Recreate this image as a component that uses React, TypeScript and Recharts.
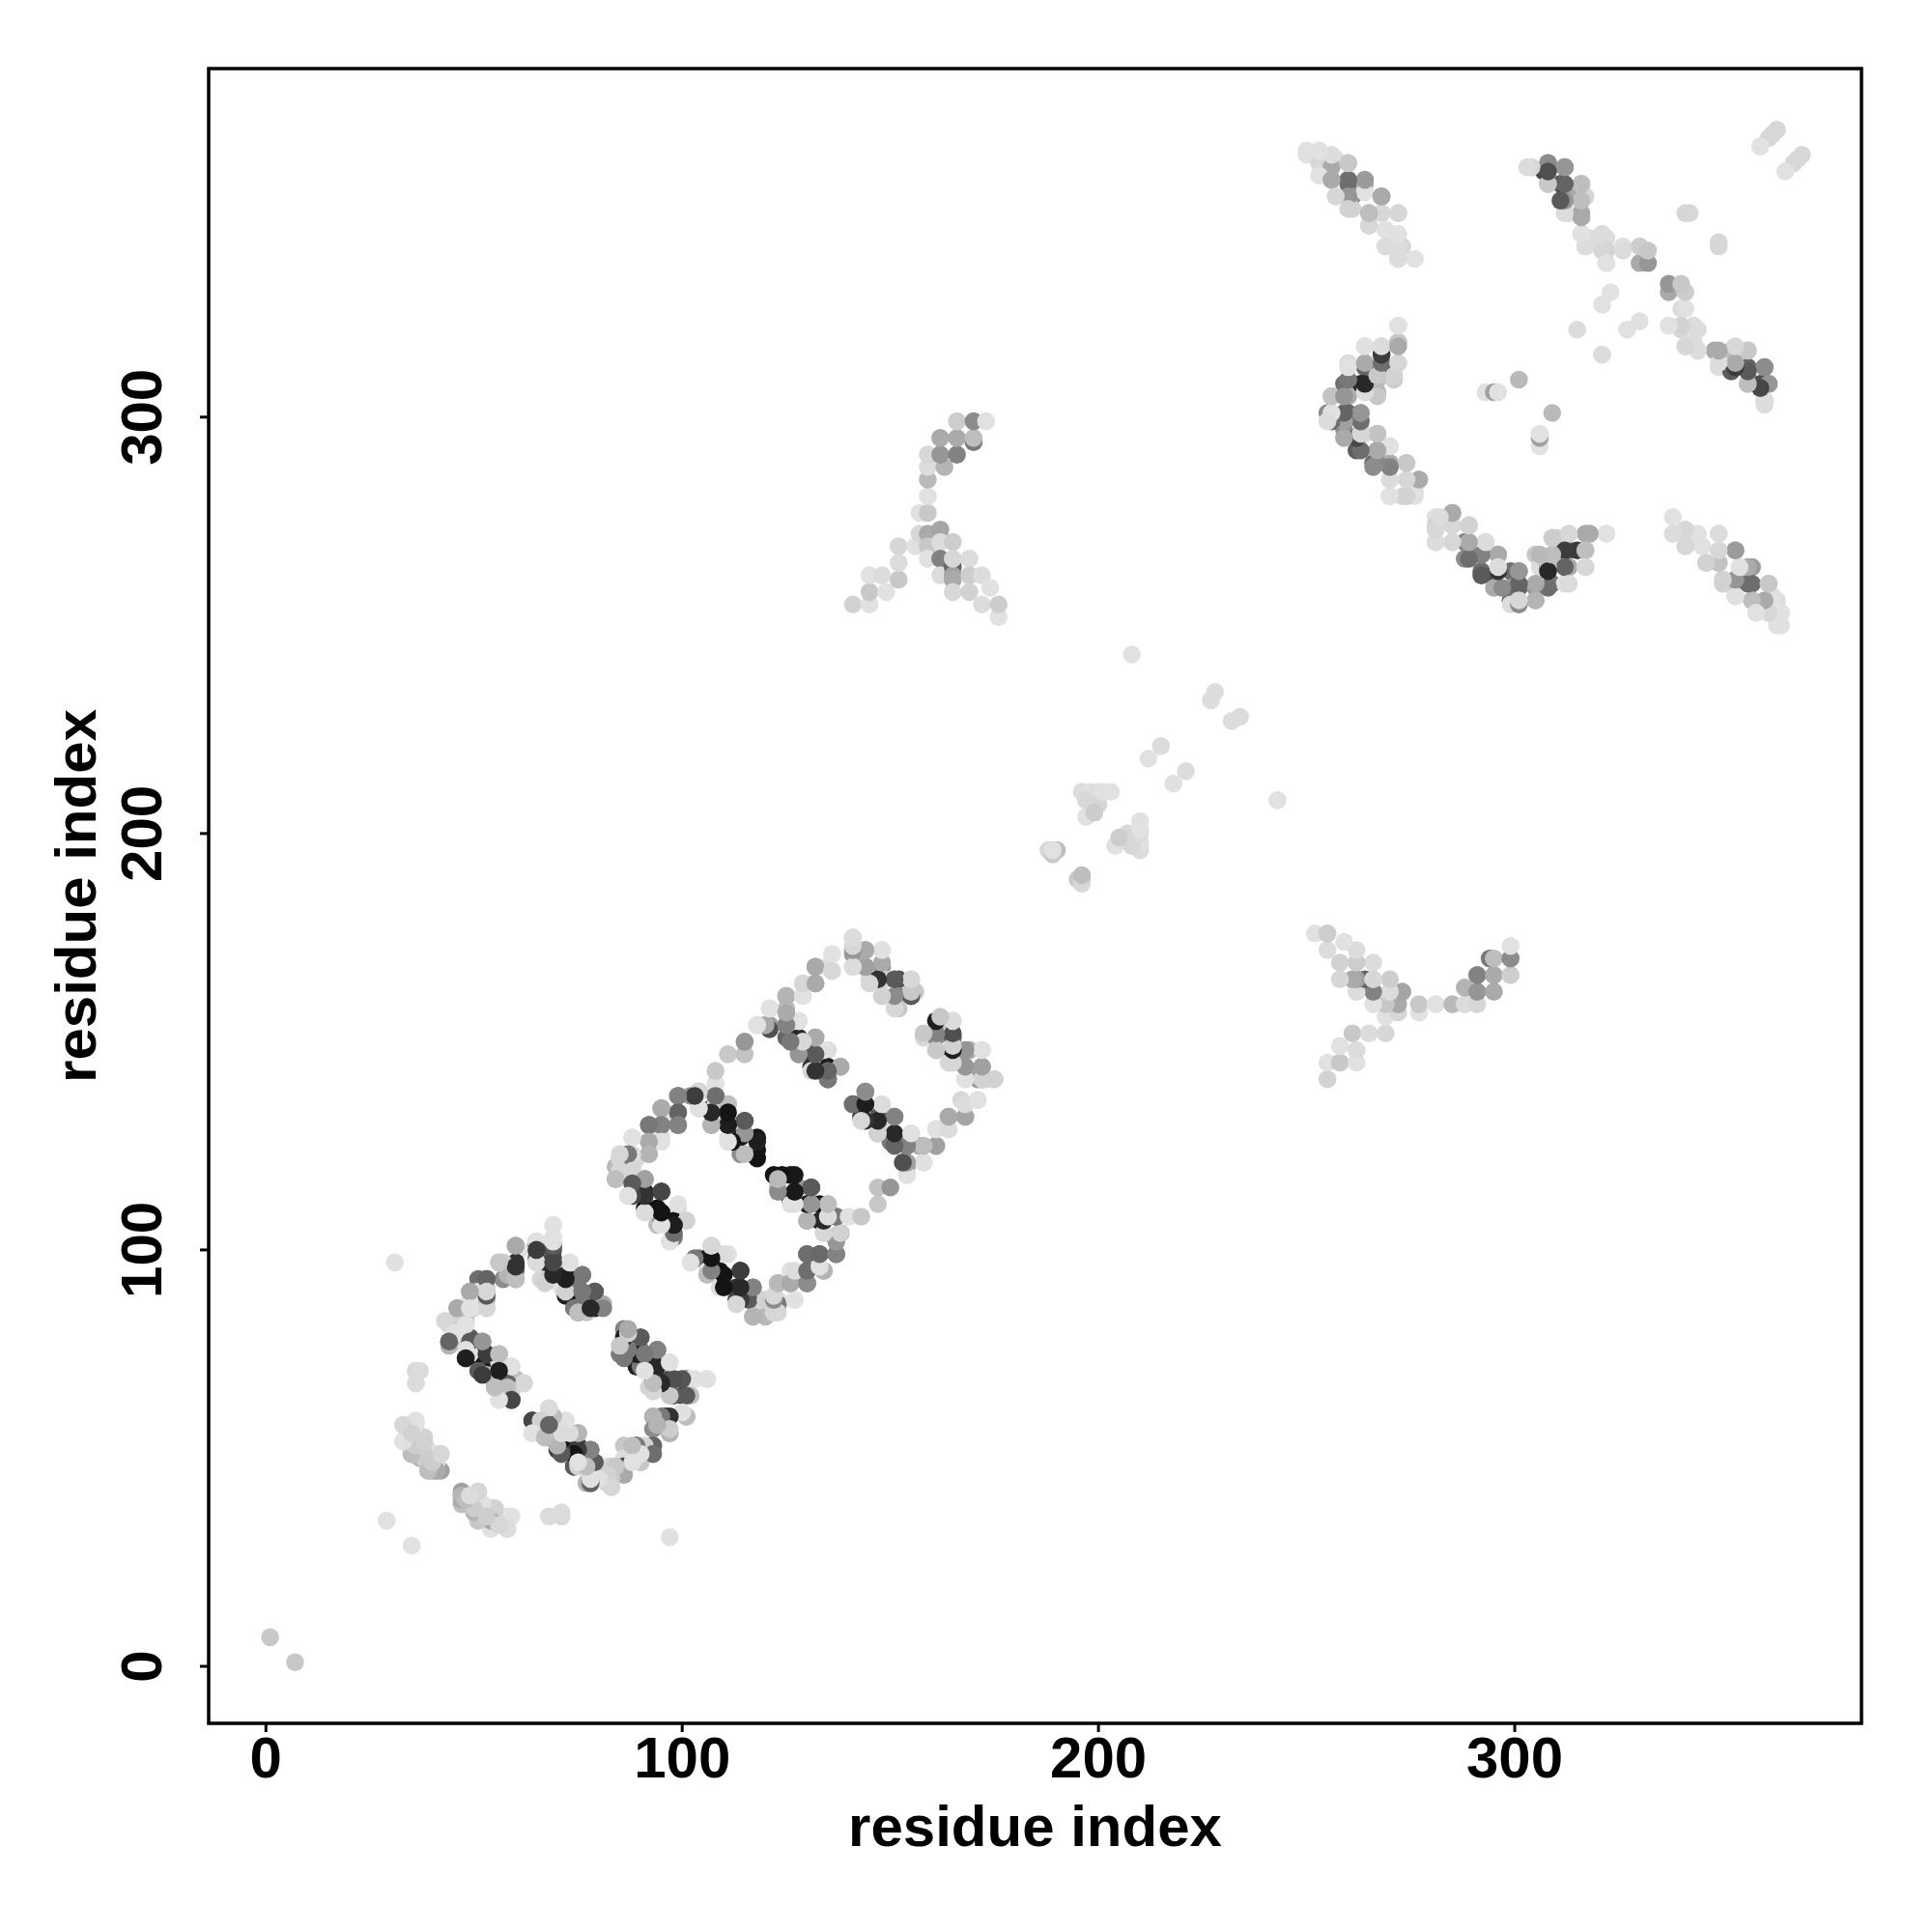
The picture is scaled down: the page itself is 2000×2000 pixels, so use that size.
import React from 'react';
import { ScatterChart, Scatter, XAxis, YAxis, ReferenceArea } from 'recharts';

// contact map: each row is [residue i, residue j, contact strength]
// the map is symmetric, so every contact is drawn at (i, j) and at (j, i)
const ringOneOuter = [
  [69,106,3],[69,103,3],[65,102,38],[65,101,138],[60,101,38],[61,100,3],[69,100,143],[60,97,178],[60,95,108],[60,93,48],
  [56,97,48],[57,97,23],[57,93,88],[53,93,128],[53,91,18],[53,89,108],[53,86,28],[49,90,28],[50,88,8],[50,86,8],
  [48,86,168],[46,86,58],[45,83,28],[48,83,18],[58,94,48],[51,93,118],[51,90,3],[53,88,38],[49,88,3],[47,83,18],
  [48,84,28],[44,82,18],[46,82,18],[43,83,13],
];
const ringOneTop = [
  [65,98,138],[65,97,28],[69,98,148],[68,95,188],[69,93,168],[72,94,188],[73,97,3],[76,94,98],[72,89,198],[72,90,108],
  [75,89,198],[75,91,108],[79,90,138],[76,86,158],[76,87,108],[79,86,198],[80,87,18],[81,87,58],[66,93,13],[68,93,38],
  [75,85,108],[74,86,108],[77,85,28],[71,91,3],
];
const ringOneInner = [
  [45,80,3],[44,78,128],[49,79,138],[52,78,98],[48,74,138],[48,75,18],[52,75,168],[51,74,208],[52,71,158],[56,75,48],
  [54,71,198],[55,71,208],[56,73,8],[59,72,3],[55,68,128],[60,69,38],[59,67,208],[62,68,8],[59,64,158],[59,66,18],[56,64,3],
  [45,78,3],[48,77,38],[49,75,3],[51,71,138],[53,70,48],[56,71,8],[55,67,38],[58,68,128],
];
const ringOneLower = [
  [85,75,38],[90,72,18],[92,67,18],[97,65,8],[102,65,3],[101,60,58],[93,60,38],[96,60,178],[93,53,128],[97,56,28],
  [86,53,13],[89,53,138],[90,53,13],[90,49,58],[86,46,58],[86,49,3],[80,46,3],[82,48,3],[78,49,138],[76,48,3],
  [75,53,168],[78,52,78],[75,56,38],[72,59,3],[71,56,198],[67,58,38],[68,62,13],[64,59,158],[64,56,3],[67,55,38],
  [70,52,168],[74,48,198],[77,44,48],[78,44,128],[86,81,98],[90,79,138],[86,78,188],[90,76,108],[94,76,108],[93,72,198],
  [97,73,3],[94,69,188],[97,69,158],[101,69,138],[102,69,3],[106,69,3],[100,65,168],
];
const outerCluster = [
  [36,71,13],[36,68,3],[37,71,8],[36,68,8],[36,59,3],[33,58,8],[33,54,3],[38,55,18],[35,54,58],[35,51,28],
  [39,52,3],[37,50,48],[42,51,13],[42,47,68],[39,47,38],[40,47,58],[41,47,48],[31,97,3],[29,35,3],[34,56,13],
  [36,53,23],[38,50,23],[40,48,38],[41,49,8],[47,41,58],[47,39,38],[49,40,23],[51,42,13],[51,38,23],[51,35,38],
  [53,36,23],[54,38,18],[54,33,3],[58,36,3],[58,33,13],[56,35,18],
];
const ringTwoOuter = [
  [84,120,43],[85,122,13],[88,120,18],[88,127,3],[88,122,88],[89,122,13],[92,123,43],[92,126,58],[92,130,88],[95,127,8],
  [95,130,118],[95,134,48],[96,133,3],[99,130,118],[99,133,123],[99,137,98],[102,137,78],[104,138,148],[104,138,18],[108,137,108],
  [108,140,3],[108,143,28],[111,147,28],[115,147,33],[115,150,78],[118,154,3],[121,158,3],[125,161,68],[129,161,3],[129,164,8],
  [132,164,58],[132,168,63],[135,168,8],[136,171,3],
];
const ringTwoInner = [
  [84,117,48],[88,114,168],[87,113,13],[91,117,98],[91,114,188],[95,114,168],[91,110,208],[94,110,208],[99,110,8],[94,106,38],
  [95,107,98],[98,107,208],[101,107,13],[98,103,108],[97,102,3],
];
const ringTwoUpper = [
  [104,134,13],[107,134,188],[108,135,8],[111,135,38],[107,130,48],[111,130,198],[111,131,78],[115,131,138],[111,127,3],[114,127,203],
  [118,127,203],[114,123,88],[118,124,208],[117,123,43],
];
const ringTwoLower = [
  [122,118,208],[126,118,198],[123,115,38],[128,115,78],[131,115,138],[126,112,208],[126,111,3],[130,111,198],[130,107,48],[135,111,38],
  [133,111,208],[133,107,188],[137,108,118],[134,104,3],[138,104,13],[137,103,168],[137,99,98],[133,99,128],[130,99,98],[134,95,58],
  [130,95,98],[130,92,108],[126,95,3],[126,92,58],[123,92,48],[127,88,3],[123,88,8],[123,87,108],[123,85,13],[119,85,13],
  [117,84,38],[119,88,13],[104,98,118],[107,101,18],[111,99,3],[106,98,198],[106,95,3],[109,95,208],[114,95,158],[109,91,8],
  [113,91,178],[117,91,68],[113,88,158],[116,88,138],[113,87,3],
];
const ringThreeInner = [
  [125,158,38],[121,154,68],[121,153,148],[125,154,98],[125,151,128],[128,151,188],[128,155,3],[128,147,18],[132,151,98],[131,147,188],
  [135,148,8],[131,144,178],[135,141,118],[135,144,198],[138,144,88],[131,143,13],
];
const ringThreeUpper = [
  [141,171,78],[141,175,18],[141,172,18],[141,168,3],[144,172,68],[148,172,3],[144,168,78],[148,168,78],[145,165,13],[148,165,198],
  [149,165,18],[152,165,148],[155,165,8],[148,161,28],[152,161,98],[155,161,198],[156,162,28],[152,158,28],
];
const ringThreeLower = [
  [141,135,108],[144,138,58],[143,135,128],[143,132,178],[148,134,3],[147,132,138],[151,132,58],[147,128,78],[150,129,13],[150,126,108],
  [155,128,3],[154,125,98],[154,120,58],[158,121,3],[154,118,3],[157,125,58],[161,125,48],[161,129,3],[164,129,13],[164,132,58],
  [168,132,58],[167,136,13],[171,136,3],[158,151,13],[161,155,138],[162,155,28],[165,155,13],[161,151,88],[165,151,138],[161,148,18],
  [165,147,178],[164,145,13],[169,148,58],[172,148,3],[168,144,68],[172,144,58],[168,141,8],[172,141,78],[173,141,13],[175,141,8],
];
const branchLeft = [
  [141,255,18],[145,255,3],[145,258,28],[145,262,3],[149,258,3],[148,262,8],[152,261,28],[152,265,8],[152,269,13],[156,269,3],
  [157,277,3],[157,272,13],[159,277,28],[159,281,3],[159,285,43],[159,288,8],[159,291,13],[159,272,58],[159,269,28],[159,266,3],
];
const branchRight = [
  [162,273,63],[162,270,8],[162,266,98],[162,262,8],[165,264,128],[165,262,68],[165,261,58],[165,258,13],[165,270,23],[165,266,13],
  [169,266,8],[169,262,23],[169,258,18],[172,262,8],[174,259,3],[172,255,8],[176,252,3],[176,255,23],[163,288,48],[162,291,78],
  [166,291,98],[162,295,58],[166,295,58],[170,294,108],[170,295,38],[166,299,23],[170,299,88],[173,299,3],
];
const diagonalScatter = [
  [208,243,3],[227,232,8],[228,234,8],[212,218,3],[215,221,8],[196,210,8],[198,210,3],[197,208,13],[200,210,8],[203,210,3],
  [197,204,3],[200,207,13],[201,210,3],[199,205,23],[189,196,23],[188,196,13],[190,196,38],[195,189,28],[196,189,3],
];
const farStreakOne = [
  [250,363,3],[253,363,3],[253,361,13],[257,362,3],[256,360,58],[260,361,28],[256,357,38],[253,358,3],[260,356,118],[264,356,58],
  [257,353,3],[261,353,78],[264,354,3],[268,353,73],[261,350,18],[265,349,33],[268,349,13],[272,349,8],[265,346,18],[269,345,3],
  [269,341,13],[273,341,13],[272,338,8],[276,338,3],[349,272,13],[353,268,58],[357,264,73],[357,260,118],[353,260,78],[350,260,18],
  [361,260,28],[363,256,8],[357,256,58],[353,257,13],[364,253,3],[364,250,3],[341,272,8],[344,272,3],[338,272,8],[341,269,8],
  [346,265,13],[349,265,38],[345,269,3],
];
const farStreakTwo = [
  [304,360,8],[308,361,78],[307,359,158],[312,360,88],[308,356,38],[311,356,138],[316,356,28],[312,353,168],[313,353,58],[317,353,13],
  [313,349,8],[316,349,58],[316,344,8],[318,343,8],[322,343,8],[317,341,13],[322,340,18],[326,341,3],[322,337,3],[330,337,58],
  [332,337,78],[330,341,23],[332,340,28],[340,326,8],[340,321,13],[337,322,3],[344,321,8],[341,317,8],[344,316,3],[348,316,58],
  [352,316,38],[356,316,38],[349,312,8],[352,312,78],[356,312,128],[360,312,78],[352,311,138],[356,308,28],[361,308,88],[359,308,148],
  [360,304,13],[360,303,8],
];
const isolatedContacts = [
  [342,349,13],[341,349,13],[362,368,13],[361,367,13],[363,369,13],[359,365,3],[323,330,3],[321,327,3],[315,321,8],[293,306,3],
  [295,306,68],[296,306,3],[301,309,43],
];
const chevron = [
  [272,322,3],[272,318,58],[268,317,38],[264,317,13],[272,313,13],[268,312,168],[264,312,128],[260,313,8],[259,308,118],[264,308,28],
  [263,308,188],[267,309,38],[271,309,23],[256,305,48],[267,306,43],[260,305,58],[260,301,128],[263,301,78],[255,301,88],[256,301,13],
  [259,297,88],[263,296,178],[267,296,58],[264,296,8],[262,292,138],[267,292,98],[270,293,8],[266,289,118],[270,289,58],[274,289,18],
  [270,285,13],[277,285,58],[270,281,8],[273,281,13],[276,282,8],
];
const valleyDown = [
  [281,276,3],[285,277,58],[281,274,18],[281,270,3],[285,274,13],[289,274,28],[285,270,8],[288,270,98],[289,267,93],[293,270,3],
  [288,266,88],[292,267,58],[292,263,118],[296,267,33],[295,262,158],[296,263,13],[295,259,58],[299,263,118],[301,263,78],[299,259,68],
  [301,259,128],[299,256,118],[301,256,3],[299,255,8],
];
const valleyUp = [
  [305,256,33],[305,259,78],[305,267,28],[306,264,8],[308,264,188],[309,260,108],[312,260,3],[310,271,18],[310,267,28],[313,264,58],
  [313,268,118],[313,272,13],[315,268,168],[317,268,8],[317,264,3],[318,272,28],[317,272,58],[322,272,3],
];
const endContacts = [[1,7,28]];

const tickValues = [0, 100, 200, 300];
const axisTitle = 'residue index';

const contactRows = [
  ...ringOneOuter, ...ringOneTop, ...ringOneInner, ...ringOneLower, ...outerCluster, ...ringTwoOuter, ...ringTwoInner, ...ringTwoUpper,
  ...ringTwoLower, ...ringThreeInner, ...ringThreeUpper, ...ringThreeLower, ...branchLeft, ...branchRight, ...diagonalScatter,
  ...farStreakOne, ...farStreakTwo, ...isolatedContacts, ...chevron, ...valleyDown, ...valleyUp, ...endContacts,
];

const points = [
  ...contactRows.map(([i, j, s]) => ({ x: i, y: j, s })),
  ...contactRows.map(([i, j, s]) => ({ x: j, y: i, s })),
];

const font = '"Liberation Sans", Arial, sans-serif';

const ContactDot = (props: any) => {
  const g = 228 - props.payload.s;
  return <circle cx={props.cx} cy={props.cy} r={9.3} fill={`rgb(${g},${g},${g})`} />;
};

const XTick = ({ x, y, payload }: any) => (
  <text x={x} y={y + 45} textAnchor="middle" fontFamily={font} fontWeight="bold" fontSize={60} fill="#000">
    {payload.value}
  </text>
);

const YTick = ({ x, y, payload }: any) => (
  <text
    x={x - 37.7}
    y={y}
    transform={`rotate(-90 ${x - 37.7} ${y})`}
    textAnchor="middle"
    fontFamily={font}
    fontWeight="bold"
    fontSize={60}
    fill="#000"
  >
    {payload.value}
  </text>
);

const XTitle = ({ viewBox }: any) => (
  <text x={viewBox.x + viewBox.width / 2} y={1911} textAnchor="middle" fontFamily={font} fontWeight="bold" fontSize={60} fill="#000">
    {axisTitle}
  </text>
);

const YTitle = ({ viewBox }: any) => (
  <text
    x={99}
    y={viewBox.y + viewBox.height / 2}
    transform={`rotate(-90 99 ${viewBox.y + viewBox.height / 2})`}
    textAnchor="middle"
    fontFamily={font}
    fontWeight="bold"
    fontSize={60}
    fill="#000"
  >
    {axisTitle}
  </text>
);

export default function App() {
  return (
    <div style={{ position: 'absolute', left: 0, top: 0, width: 2000, height: 2000, background: '#fff' }}>
      <ScatterChart width={2000} height={2000} margin={{ top: 71, right: 73, bottom: 0, left: 0 }}>
        <XAxis
          type="number"
          dataKey="x"
          domain={[-13.76, 383.3]}
          ticks={tickValues}
          height={216}
          tickSize={9}
          tickLine={{ stroke: '#000', strokeWidth: 3 }}
          axisLine={false}
          tick={<XTick />}
          label={<XTitle />}
          interval={0}
          allowDataOverflow
        />
        <YAxis
          type="number"
          dataKey="y"
          domain={[-13.69, 383.7]}
          ticks={tickValues}
          width={216}
          tickSize={9}
          tickLine={{ stroke: '#000', strokeWidth: 3 }}
          axisLine={false}
          tick={<YTick />}
          label={<YTitle />}
          interval={0}
          allowDataOverflow
        />
        <Scatter data={points} shape={<ContactDot />} isAnimationActive={false} />
        <ReferenceArea
          x1={-13.76}
          x2={383.3}
          y1={-13.69}
          y2={383.7}
          fill="none"
          stroke="#000"
          strokeWidth={3.5}
          ifOverflow="visible"
        />
      </ScatterChart>
    </div>
  );
}
